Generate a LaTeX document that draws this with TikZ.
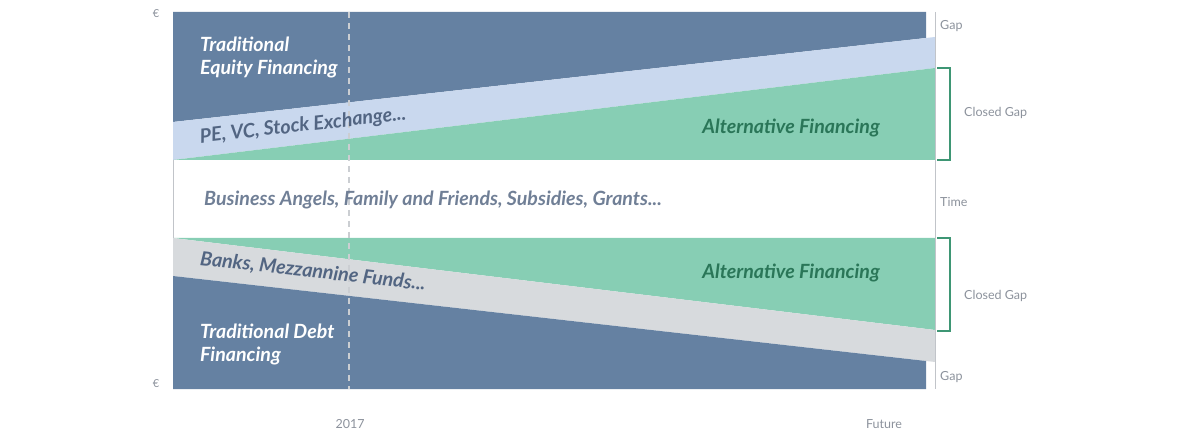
\documentclass[tikz,border=0pt]{standalone}
\usepackage{fontspec}
\setmainfont{Lato}
\usetikzlibrary{positioning}
\definecolor{fDark}{RGB}{101,129,162}
\definecolor{fLight}{RGB}{201,216,238}
\definecolor{fGreen}{RGB}{135,206,180}
\definecolor{fGrey}{RGB}{215,218,221}
\definecolor{fInk}{RGB}{82,101,130}
\definecolor{fMid}{RGB}{112,127,150}
\definecolor{fAlt}{RGB}{42,118,88}
\definecolor{fBracket}{RGB}{62,150,116}
\definecolor{fLabel}{RGB}{140,146,156}

\begin{document}
\begin{tikzpicture}[x=1pt, y=-1pt,
  lbl/.style={font=\fontsize{12.5}{14}\selectfont, text=fLabel, inner sep=0pt},
  big/.style={font=\fontsize{19.6}{23}\selectfont\bfseries\itshape, align=left, inner sep=0pt}]
  \useasboundingbox (0,0) rectangle (1189,438);
  % equity side
  \fill[fDark] (173,12) -- (926,12) -- (926,38) -- (173,122) -- cycle;
  \fill[fLight] (173,122) -- (935,37) -- (935,68) -- (173,160) -- cycle;
  \fill[fGreen] (173,160) -- (935,68) -- (935,160) -- cycle;
  % debt side
  \fill[fGreen] (173,238) -- (935,238) -- (935,330) -- cycle;
  \fill[fGrey] (173,238) -- (935,330) -- (935,362) -- (173,276) -- cycle;
  \fill[fDark] (173,276) -- (926,361) -- (926,389) -- (173,389) -- cycle;
  \draw[fGrey!70!fLabel, line width=0.6] (173,160) -- (173,238);
  \draw[fGrey!70!fLabel, line width=0.6] (935,12) -- (935,389);
  \draw[white!55!fLabel, dashed, line width=1.2, dash pattern=on 6pt off 5pt] (349,12) -- (349,389);
  % brackets
  \foreach \t/\b in {68/160, 238/331} {
    \draw[fBracket, line width=2.8] (937,\t) -| (950,\b) -- (937,\b);
  }

  \node[big, text=white, anchor=north west] (equity) at (200,37) {Traditional\\Equity Financing};
  \node[big, text=fInk, rotate=6.4] (pe) at (303,126) {PE, VC, Stock Exchange...};
  \node[big, text=fAlt, anchor=east] (altup) at (880,128) {Alternative Financing};
  \node[big, text=fMid, anchor=west] (angels) at (204,200) {Business Angels, Family and Friends, Subsidies, Grants...};
  \node[big, text=fAlt, anchor=east] (altlow) at (880,273) {Alternative Financing};
  \node[big, text=fInk, rotate=-6.4] (banks) at (313,272) {Banks, Mezzannine Funds...};
  \node[big, text=white, anchor=north west] (debt) at (200,324) {Traditional Debt\\Financing};

  \foreach \n/\y in {top/14, bot/384} {
    \node[lbl, font=\fontsize{11}{13}\selectfont] (euro-\n) at (156,\y) {€};
  }
  \node[lbl, anchor=west] (gaptop) at (940,26) {Gap};
  \node[lbl, anchor=west] (closedtop) at (964,113) {Closed Gap};
  \node[lbl, anchor=west] (time) at (940,202) {Time};
  \node[lbl, anchor=west] (closedbot) at (964,296) {Closed Gap};
  \node[lbl, anchor=west] (gapbot) at (940,377) {Gap};
  \node[lbl] (year) at (350,424) {2017};
  \node[lbl] (future) at (884,424) {Future};
\end{tikzpicture}
\end{document}
